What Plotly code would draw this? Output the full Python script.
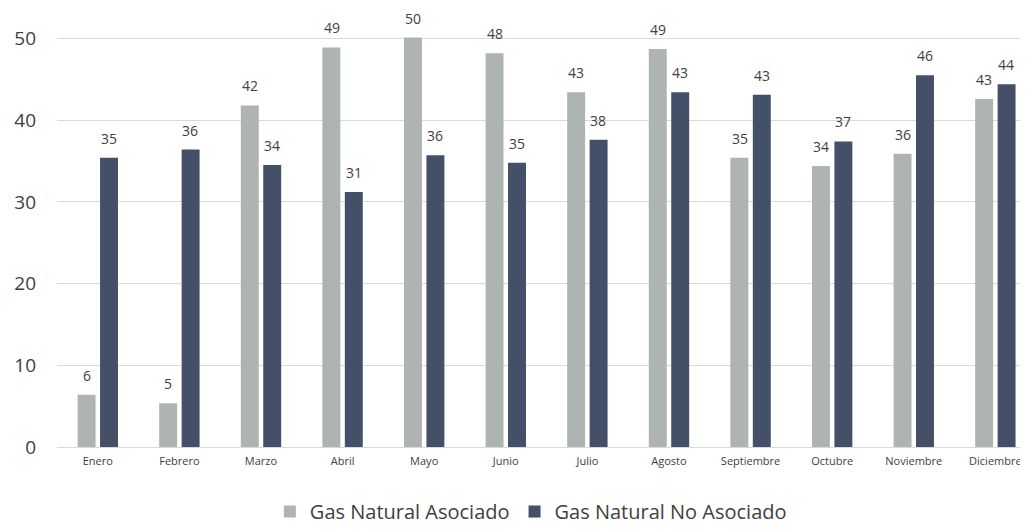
import plotly.graph_objects as go

meses = ['Enero', 'Febrero', 'Marzo', 'Abril', 'Mayo', 'Junio', 'Julio',
         'Agosto', 'Septiembre', 'Octubre', 'Noviembre', 'Diciembre']
asociado = [6.4, 5.35, 41.8, 48.9, 50.1, 48.2, 43.4, 48.7, 35.4, 34.4, 35.9, 42.6]
no_asociado = [35.4, 36.4, 34.5, 31.2, 35.7, 34.8, 37.6, 43.4, 43.1, 37.4, 45.5, 44.4]

GRAY = '#adb4b2'
DARK = '#435068'
TXT = '#404040'
FONT = 'Open Sans'

fig = go.Figure()

fig.add_trace(
    go.Bar(
        x=meses,
        y=asociado,
        name='Gas Natural Asociado',
        marker=dict(color=GRAY, line=dict(width=0)),
    )
)

fig.add_trace(
    go.Bar(
        x=meses,
        y=no_asociado,
        name='Gas Natural No Asociado',
        marker=dict(color=DARK, line=dict(width=0)),
    )
)

# value labels a bit higher above the bars than plotly's outside text
annotations = []
for serie, dx in [(asociado, -11), (no_asociado, 11)]:
    for mes, v in zip(meses, serie):
        annotations.append(dict(
            x=mes, y=v, xref='x', yref='y',
            text=f"{v:.0f}",
            showarrow=False,
            xanchor='center', yanchor='bottom',
            xshift=dx, yshift=8,
            font=dict(size=14, color=TXT, family=FONT),
        ))

# page body has an 8px margin, so the figure is sized 8px smaller each way
fig.update_layout(
    width=1020,
    height=521,
    plot_bgcolor='white',
    paper_bgcolor='white',
    font=dict(family=FONT, color=TXT),
    barmode='group',
    bargap=0.45,
    bargroupgap=0.2,
    margin=dict(l=49, r=0, t=10, b=82, autoexpand=False),
    xaxis=dict(
        range=[-0.5, 11.4],
        showgrid=False,
        showline=False,
        tickfont=dict(size=11, color=TXT),
        ticks='',
        ticklabelstandoff=6,
        automargin=False,
    ),
    yaxis=dict(
        range=[0, 52.5],
        tickvals=[0, 10, 20, 30, 40, 50],
        showgrid=True,
        gridcolor='#d9d9d9',
        gridwidth=1,
        zeroline=True,
        zerolinecolor='#d9d9d9',
        zerolinewidth=1,
        tickfont=dict(size=19, color=TXT),
        ticklabelstandoff=20,
        automargin=False,
    ),
    annotations=annotations,
    showlegend=True,
    legend=dict(
        orientation='h',
        x=0.488,
        xanchor='center',
        y=-0.105,
        yanchor='top',
        font=dict(size=20, color=TXT),
        itemwidth=30,
        traceorder='normal',
    ),
)

fig.write_html("out.html")
